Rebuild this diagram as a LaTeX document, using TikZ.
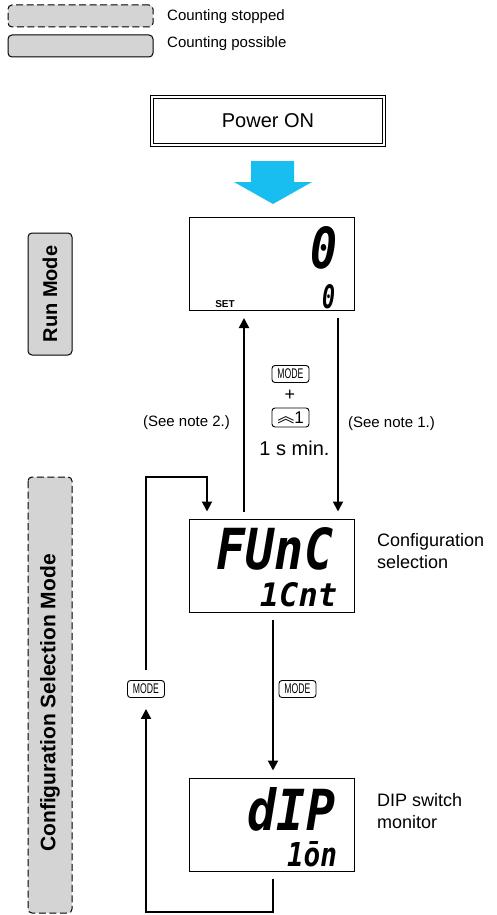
\documentclass[tikz,border=0pt]{standalone}
\usepackage{fontspec}
\setmainfont{Liberation Sans}
\newfontfamily\segfont{DejaVu Sans Mono}
\newfontfamily\cjkfont{Noto Sans CJK SC}
\usetikzlibrary{arrows.meta}
\definecolor{modegray}{RGB}{212,212,212}
\definecolor{powerblue}{RGB}{24,190,240}
\begin{document}
\begin{tikzpicture}[x=1pt,y=-1pt,
  modebox/.style={draw, line width=1pt, fill=modegray, rounded corners=4pt, inner sep=0pt},
  stoppedbox/.style={modebox, dash pattern=on 7pt off 3.5pt},
  lcd/.style={draw, line width=1pt, minimum width=165pt, minimum height=93pt, inner sep=0pt},
  key/.style={draw, line width=0.9pt, rounded corners=3pt, minimum width=37pt, minimum height=17pt, inner sep=0pt, fill=white, font=\fontsize{14}{14}\selectfont},
  flow/.style={line width=2pt, -{Triangle[length=10pt,width=10pt]}},
  seg/.style={inner sep=0pt, font=\segfont\bfseries\itshape},
  lbl/.style={inner sep=0pt, font=\fontsize{15}{18}\selectfont},
  side/.style={anchor=north west, inner sep=0pt, align=left, font=\fontsize{18}{22}\selectfont}
]
\useasboundingbox (0,0) rectangle (497,915);

% legend
\node[stoppedbox, minimum width=145pt, minimum height=22pt] (legstop) at (80.5,16) {};
\node[modebox, minimum width=145pt, minimum height=22pt] (legposs) at (80.5,46) {};
\node[lbl, anchor=west] (legstopt) at (167,17) {Counting stopped};
\node[lbl, anchor=west] (legposst) at (167,44) {Counting possible};

% power on
\node[draw, double, double distance=2pt, line width=1pt, minimum width=232pt, minimum height=48pt, font=\fontsize{20}{24}\selectfont] (power) at (268,121) {Power ON};
\fill[powerblue] (251,161) -- (294,161) -- (294,182) -- (312,182) -- (273,204) -- (234,182) -- (251,182) -- cycle;

% mode boxes
\node[modebox, rotate=90, minimum width=122pt, minimum height=44pt, font=\bfseries\fontsize{20}{24}\selectfont] (runmode) at (50,294) {Run Mode};
\node[stoppedbox, rotate=90, minimum width=436pt, minimum height=44pt, font=\bfseries\fontsize{21}{24}\selectfont] (cfgmode) at (50,695) {\hspace*{-16pt}Configuration Selection Mode};

% run display
\node[lcd] (run) at (271.5,264) {};
\node[seg] (run0) at (323.5,248) {\resizebox{27pt}{42pt}{0}};
\node[seg] (run0s) at (328.5,297) {\resizebox{13pt}{24pt}{0}};
\node[inner sep=0pt, font=\bfseries\fontsize{10}{12}\selectfont] (set) at (225,304) {SET};

% func display
\node[lcd] (func) at (271.5,565.5) {};
\node[seg] (functxt) at (275,549) {\resizebox{116pt}{42pt}{FUnC}};
\node[seg] (cnttxt) at (298.5,595) {\resizebox{77pt}{24pt}{1Cnt}};
\node[side] (cfgsel) at (377,533) {Configuration\\selection};

% dip display
\node[lcd] (dip) at (271.5,824.5) {};
\node[seg] (diptxt) at (291.5,809.5) {\resizebox{87pt}{43pt}{dIP}};
\node[seg] (ontxt) at (312,854.5) {\resizebox{50pt}{25pt}{1ōn}};
\node[side] (dipmon) at (377,793) {DIP switch\\monitor};

% keys and notes
\node[key] (modeT) at (290.5,374) {\scalebox{0.62}[1]{MODE}};
\node[inner sep=0pt, font=\fontsize{18}{18}\selectfont] (plus) at (290,395.5) {+};
\node[key, minimum height=19pt, font=\fontsize{17}{17}\selectfont] (up1) at (290.5,417.5) {\raisebox{1pt}{\cjkfont ︽}1};
\node[inner sep=0pt, font=\fontsize{20}{24}\selectfont] (onesec) at (294.5,448) {1 s min.};
\node[lbl] (note2) at (186.5,423) {(See note 2.)};
\node[lbl] (note1) at (391.5,424) {(See note 1.)};
\node[key] (modeL) at (146,689) {\scalebox{0.62}[1]{MODE}};
\node[key] (modeR) at (297.5,689) {\scalebox{0.62}[1]{MODE}};

% connectors
\draw[flow, shorten <=7pt, shorten >=7pt] ([xshift=-27.5pt]func.north) -- ([xshift=-27.5pt]run.south);
\draw[flow, shorten <=7pt, shorten >=7pt] ([xshift=66.5pt]run.south) -- ([xshift=66.5pt]func.north);
\draw[flow, shorten <=7pt, shorten >=7pt] ([xshift=1.5pt]func.south) -- ([xshift=1.5pt]dip.north);
\coordinate (lbot) at (146,912);
\coordinate (ltop) at (146,477);
\draw[flow, shorten >=11pt] ([xshift=1.5pt,yshift=-7pt]dip.south) |- (lbot) -- (modeL.south);
\draw[flow, shorten >=7pt] ([yshift=10pt]modeL.north) -- (ltop) -| ([xshift=-64.5pt]func.north);
\end{tikzpicture}
\end{document}
